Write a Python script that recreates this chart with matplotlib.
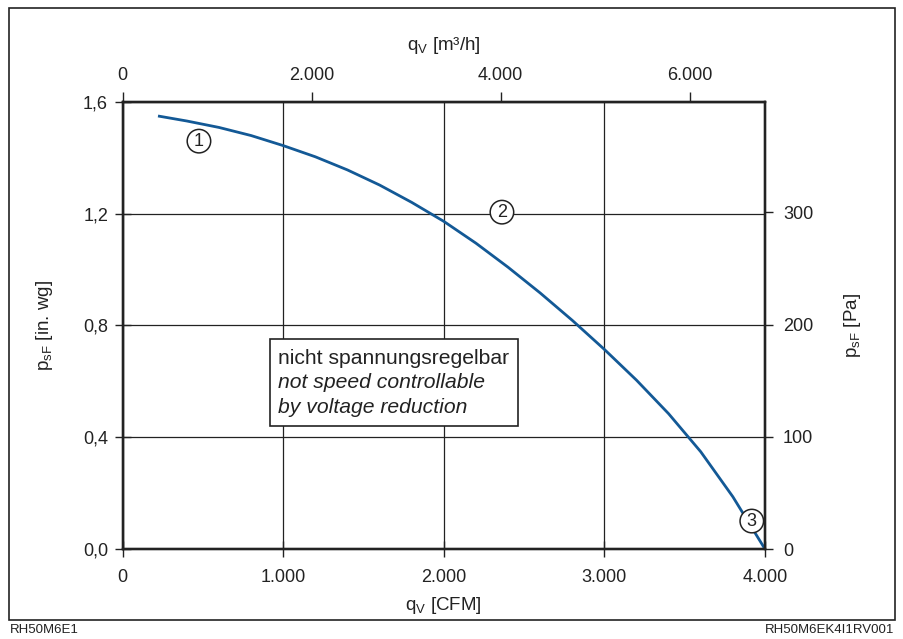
import matplotlib
matplotlib.use("Agg")
import matplotlib.pyplot as plt
from matplotlib.patches import Rectangle
from matplotlib.ticker import FuncFormatter

plt.rcParams["font.family"] = ["Liberation Sans", "DejaVu Sans"]

# fan curve (q_V in CFM, p_sF in in. wg)
q_cfm = [220, 400, 600, 800, 1000, 1200, 1400, 1600, 1800, 2000, 2200, 2400,
         2600, 2800, 3000, 3200, 3400, 3600, 3800, 4000]
p_inwg = [1.549, 1.531, 1.508, 1.479, 1.443, 1.403, 1.356, 1.302, 1.240, 1.172,
          1.094, 1.008, 0.916, 0.818, 0.714, 0.604, 0.484, 0.348, 0.187, 0.0]

# operating point markers
pt_labels = ["1", "2", "3"]
pt_q = [475, 2362, 3918]
pt_p = [1.459, 1.205, 0.100]

x_ticks = [0, 1000, 2000, 3000, 4000]
y_ticks = [0.0, 0.4, 0.8, 1.2, 1.6]
top_ticks = [0, 2000, 4000, 6000]
right_ticks = [0, 100, 200, 300]

note_lines = ["nicht spannungsregelbar", "not speed controllable", "by voltage reduction"]
note_styles = ["normal", "italic", "italic"]

CFM_TO_M3H = 1.699
INWG_TO_PA = 249.09
INK = "#222222"
BLUE = "#135996"


def thousands(v, pos=None):
    return f"{int(round(v)):,}".replace(",", ".")


def comma1(v, pos=None):
    return f"{v:.1f}".replace(".", ",")


fig = plt.figure(figsize=(9.04, 6.39), dpi=100)
ax = fig.add_axes([0.1357, 0.1408, 0.7105, 0.7000])

ax.plot(q_cfm, p_inwg, color=BLUE, lw=2.0, zorder=3, solid_capstyle="butt")

ax.set_xlim(0, 4000)
ax.set_ylim(0, 1.6)
ax.set_xticks(x_ticks)
ax.set_yticks(y_ticks)
ax.xaxis.set_major_formatter(FuncFormatter(thousands))
ax.yaxis.set_major_formatter(FuncFormatter(comma1))
ax.grid(True, color=INK, lw=0.9)
ax.set_axisbelow(True)
ax.tick_params(axis="both", direction="inout", length=11, width=1.0, color=INK,
               labelsize=13, labelcolor=INK)
ax.tick_params(axis="x", pad=9)
ax.tick_params(axis="y", pad=5)
for s in ax.spines.values():
    s.set_linewidth(1.6)
    s.set_color(INK)

ax.set_xlabel("q$_\\mathregular{V}$ [CFM]", fontsize=13.5, color=INK, labelpad=6)
ax.set_ylabel("p$_\\mathregular{sF}$ [in. wg]", fontsize=13.5, color=INK, labelpad=20)

# top axis in m3/h
top = ax.twiny()
top.set_xlim(0, 4000 * CFM_TO_M3H)
top.set_xticks(top_ticks)
top.xaxis.set_major_formatter(FuncFormatter(thousands))
top.tick_params(axis="x", direction="out", length=7, width=1.0, color=INK,
                labelsize=13, labelcolor=INK, pad=6)
top.set_xlabel("q$_\\mathregular{V}$ [m³/h]", fontsize=13.5, color=INK, labelpad=12)

# right axis in Pa
right = ax.twinx()
right.set_ylim(0, 1.6 * INWG_TO_PA)
right.set_yticks(right_ticks)
right.tick_params(axis="y", direction="out", length=6, width=1.0, color=INK,
                  labelsize=13, labelcolor=INK, pad=7)
right.set_ylabel("p$_\\mathregular{sF}$ [Pa]", fontsize=13.5, color=INK, labelpad=21)
for a in (top, right):
    for s in a.spines.values():
        s.set_linewidth(1.6)
        s.set_color(INK)

for lab, q, p in zip(pt_labels, pt_q, pt_p):
    ax.text(q, p, lab, fontsize=13, color=INK, ha="center", va="center", zorder=5,
            bbox=dict(boxstyle="circle,pad=0.18", fc="white", ec=INK, lw=1.1))

# note box
ax.add_patch(Rectangle((918, 0.44), 1544, 0.311, fc="white", ec=INK, lw=1.2, zorder=4))
for i, (line, st) in enumerate(zip(note_lines, note_styles)):
    ax.text(969, 0.680 - i * 0.086, line, fontsize=15.2, style=st, color=INK,
            ha="left", va="center", zorder=5)

# outer frame and drawing codes
fig.patches.append(Rectangle((0.0105, 0.029), 0.979, 0.959, transform=fig.transFigure,
                             fill=False, ec=INK, lw=1.2))
fig.text(0.0105, 0.004, "RH50M6E1", fontsize=9.5, color=INK, ha="left", va="bottom")
fig.text(0.989, 0.004, "RH50M6EK4I1RV001", fontsize=9.5, color=INK, ha="right", va="bottom")

fig.savefig("out.png", dpi=100)
